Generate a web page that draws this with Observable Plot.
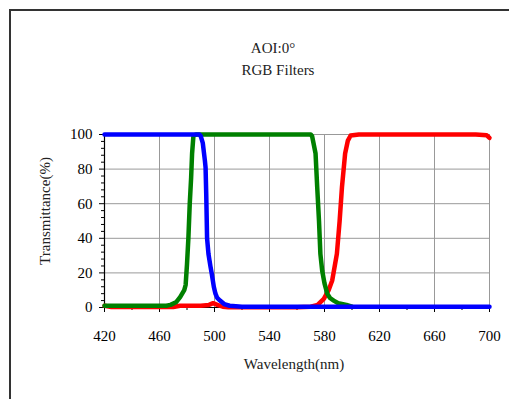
<!DOCTYPE html>
<html>
<head>
<meta charset="utf-8">
<script src="https://cdn.jsdelivr.net/npm/d3@7"></script>
<script src="https://cdn.jsdelivr.net/npm/@observablehq/plot@0.6"></script>
<style>
  html, body { margin: 0; padding: 0; background: #fff; }
  #wrap { position: relative; width: 509px; height: 399px; overflow: hidden; background: #fff; }
  #frame { position: absolute; left: 9px; top: 9px; width: 700px; height: 700px; border: 2px solid #333; box-sizing: border-box; }
  #chart { position: absolute; left: 0; top: 0; }
</style>
</head>
<body>
<div id="wrap"><div id="frame"></div><div id="chart"></div></div>
<script>
const titleText = "AOI:0°";
const subtitleText = "RGB Filters";
const xLabel = "Wavelength(nm)";
const yLabel = "Transmittance(%)";

const xMajorTicks = [420, 460, 500, 540, 580, 620, 660, 700];
const xMinorTicks = [440, 480, 520, 560, 600, 640, 680];
const yMajorTicks = [0, 20, 40, 60, 80, 100];
const yMinorTicks = [4, 8, 12, 16, 24, 28, 32, 36, 44, 48, 52, 56, 64, 68, 72, 76, 84, 88, 92, 96];

const redWl = [420, 425, 470, 475, 490, 496, 499, 502, 506, 510, 560, 570, 575, 579.5, 583, 585.6, 589, 591, 592.7, 595, 597, 599, 605, 650, 690, 698, 700];
const redT  = [1, 0.3, 0.3, 1, 1, 1.5, 2.5, 1.5, 0.5, 0.2, 0.2, 0.5, 1.5, 5, 10, 15.6, 31, 50, 69.5, 89, 96.5, 99.4, 100, 100, 100, 99.5, 98];

const greenWl = [420, 465, 468, 472, 475, 478, 479, 480, 481, 482, 483, 483.7, 484.7, 487, 570, 571, 573.5, 574.7, 576, 577, 578.3, 580, 582, 584, 586.7, 590, 596, 600];
const greenT  = [1, 1, 1.5, 3, 6, 10, 13, 25, 40, 60, 75, 89, 99.5, 100, 100, 99, 89, 69.5, 50, 31, 21.4, 13.9, 8, 5.5, 4, 2.5, 1.5, 0.5];

const blueWl = [420, 489, 490, 491.5, 493, 493.5, 494, 494.6, 495.6, 497, 498, 499.5, 500.7, 502, 504, 507, 511, 520, 700];
const blueT  = [100, 100, 99, 95, 85, 81, 65, 40, 31, 24, 19.6, 12, 8, 5.5, 4, 2, 1, 0.5, 0.5];

const toRows = (wl, t) => wl.map((w, i) => ({wl: w, t: t[i]}));
const red = toRows(redWl, redT);
const green = toRows(greenWl, greenT);
const blue = toRows(blueWl, blueT);

const font = "'Liberation Serif', 'DejaVu Serif', serif";

const chart = Plot.plot({
  width: 509,
  height: 399,
  marginLeft: 104,
  marginRight: 20,
  marginTop: 134,
  marginBottom: 92,
  x: {domain: [420, 700]},
  y: {domain: [0, 100]},
  style: {fontFamily: font, fontSize: "15px", background: "transparent", color: "#000"},
  marks: [
    Plot.gridX(xMajorTicks.slice(1), {stroke: "#999", strokeOpacity: 1, strokeWidth: 1}),
    Plot.gridY(yMajorTicks.slice(1), {stroke: "#999", strokeOpacity: 1, strokeWidth: 1}),
    Plot.axisX(xMinorTicks, {tickSize: 3, text: null, label: null}),
    Plot.axisX(xMajorTicks, {tickSize: 5, tickPadding: 18, label: null, fontSize: 15}),
    Plot.axisY(yMinorTicks, {tickSize: 3, text: null, label: null}),
    Plot.axisY(yMajorTicks, {tickSize: 5, tickPadding: 7, label: null, fontSize: 15}),
    Plot.ruleX([420], {stroke: "#000", strokeWidth: 1.2}),
    Plot.ruleY([0], {stroke: "#000", strokeWidth: 1.2}),
    Plot.line(red, {x: "wl", y: "t", stroke: "#ff0000", strokeWidth: 4.5, strokeLinejoin: "round", strokeLinecap: "round"}),
    Plot.line(green, {x: "wl", y: "t", stroke: "#008000", strokeWidth: 4.5, strokeLinejoin: "round", strokeLinecap: "round"}),
    Plot.line(blue, {x: "wl", y: "t", stroke: "#0000ff", strokeWidth: 4.5, strokeLinejoin: "round", strokeLinecap: "round"}),
    Plot.text([titleText], {frameAnchor: "top", dx: -24, dy: -92, fontSize: 15, fill: "#222"}),
    Plot.text([subtitleText], {frameAnchor: "top", dx: -19, dy: -70, fontSize: 15, fill: "#222"}),
    Plot.text([xLabel], {frameAnchor: "bottom", dx: -3, dy: 61, fontSize: 15, fill: "#222"}),
    Plot.text([yLabel], {frameAnchor: "left", textAnchor: "middle", dx: -59, dy: -10, rotate: -90, fontSize: 15, fill: "#222"})
  ]
});
document.getElementById("chart").appendChild(chart);
</script>
</body>
</html>
